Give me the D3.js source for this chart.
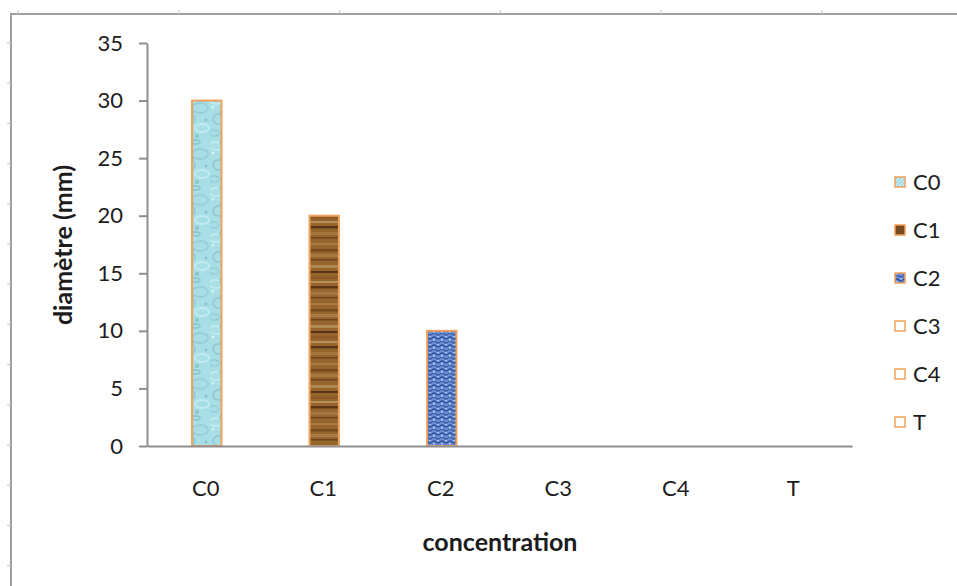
<!DOCTYPE html>
<html>
<head>
<meta charset="utf-8">
<script src="https://cdn.jsdelivr.net/npm/d3@7"></script>
<style>
  body { margin: 0; background: #fff; }
  svg { display: block; }
  text { font-family: Lato, "Open Sans", sans-serif; fill: #1c1c1c; }
</style>
</head>
<body>
<svg id="chart" width="957" height="586"></svg>
<script>
// Chart data
const categories = ["C0", "C1", "C2", "C3", "C4", "T"];
const diameters = [30, 20, 10, 0, 0, 0];
const yTicks = [0, 5, 10, 15, 20, 25, 30, 35];
const seriesNames = ["C0", "C1", "C2", "C3", "C4", "T"];
const yTitle = "diamètre (mm)";
const xTitle = "concentration";

const svg = d3.select("#chart");
const defs = svg.append("defs");

// ---- textured fills ----
// water texture (C0)
const water = defs.append("pattern").attr("id", "tex-water")
  .attr("patternUnits", "userSpaceOnUse").attr("width", 30).attr("height", 46);
water.append("rect").attr("width", 30).attr("height", 46).attr("fill", "#a8dfe7");
[[6,8,7,4,"#c0ebf0"],[20,16,8,5,"#93cfd9"],[9,27,6,5,"#90cbd6"],[22,36,7,4,"#c3ecf1"],[4,41,5,3,"#97d2dc"],[15,4,5,2,"#8cc7d2"]]
  .forEach(([cx, cy, rx, ry, c]) => water.append("ellipse")
    .attr("cx", cx).attr("cy", cy).attr("rx", rx).attr("ry", ry)
    .attr("fill", "none").attr("stroke", c).attr("stroke-width", 1.8));
[[12,20,2,"#86c2cd"],[26,28,1.5,"#86c2cd"],[3,15,1.5,"#d3f3f6"],[17,44,2,"#88c3ce"]]
  .forEach(([cx, cy, r, c]) => water.append("circle")
    .attr("cx", cx).attr("cy", cy).attr("r", r).attr("fill", c));

// wood texture (C1)
const wood = defs.append("pattern").attr("id", "tex-wood")
  .attr("patternUnits", "userSpaceOnUse").attr("width", 30).attr("height", 60);
wood.append("rect").attr("width", 30).attr("height", 60).attr("fill", "#96652f");
[[3,2,"#a97a44"],[9,2.5,"#55321280"],[14,3,"#a87a45"],[19,1.5,"#6b4220"],[25,3,"#b08a55"],[31,2,"#5a3416"],
 [36,3,"#8d5c2b"],[41,2,"#b5905b"],[46,2.5,"#5c3515"],[52,3,"#a4763f"],[57,1.5,"#6e4522"]]
  .forEach(([y, h, c]) => wood.append("rect")
    .attr("x", 0).attr("y", y).attr("width", 30).attr("height", h).attr("fill", c));

// knit texture (C2)
const knit = defs.append("pattern").attr("id", "tex-knit")
  .attr("patternUnits", "userSpaceOnUse").attr("width", 8).attr("height", 8);
knit.append("rect").attr("width", 8).attr("height", 8).attr("fill", "#6d8fd6");
knit.append("path").attr("d", "M0,2 Q2,0 4,2 T8,2").attr("fill", "none")
  .attr("stroke", "#2f509c").attr("stroke-width", 1.5);
knit.append("path").attr("d", "M0,6 Q2,4 4,6 T8,6").attr("fill", "none")
  .attr("stroke", "#3d5fae").attr("stroke-width", 1.3);
knit.append("circle").attr("cx", 2).attr("cy", 4).attr("r", 1).attr("fill", "#b9cdf3");
knit.append("circle").attr("cx", 6).attr("cy", 0.5).attr("r", 1).attr("fill", "#a9c0ee");

// legend swatch hatching for C0
const hatch = defs.append("pattern").attr("id", "tex-hatch")
  .attr("patternUnits", "userSpaceOnUse").attr("width", 4).attr("height", 4);
hatch.append("rect").attr("width", 4).attr("height", 4).attr("fill", "#a6dde6");
hatch.append("path").attr("d", "M0,4 L4,0").attr("stroke", "#d8f4f7").attr("stroke-width", 1);

// soften the textures slightly
const soft = defs.append("filter").attr("id", "soft");
soft.append("feGaussianBlur").attr("stdDeviation", 0.5);

const fills = {
  C0: "url(#tex-water)", C1: "url(#tex-wood)", C2: "url(#tex-knit)",
  C3: "none", C4: "none", T: "none"
};
const swatchFills = {
  C0: "url(#tex-hatch)", C1: "#7a4a22", C2: "url(#tex-knit)",
  C3: "#fff", C4: "#fff", T: "#fff"
};
const barStroke = "#f0a058";
const axisColor = "#8e8e8e";

// ---- outer frame with ruler marks ----
svg.append("path").attr("d", "M11,586V14H957")
  .attr("fill", "none").attr("stroke", "#a0a0a0").attr("stroke-width", 2);
svg.append("g").selectAll("line").data(d3.range(43, 586, 40.2)).join("line")
  .attr("x1", 7).attr("x2", 11).attr("y1", d => d).attr("y2", d => d)
  .attr("stroke", "#c4c4c4").attr("stroke-width", 1);
svg.append("g").selectAll("line").data(d3.range(18, 957, 160.8)).join("line")
  .attr("x1", d => d).attr("x2", d => d).attr("y1", 10).attr("y2", 14)
  .attr("stroke", "#c4c4c4").attr("stroke-width", 1);

// ---- scales ----
const x = d3.scaleBand().domain(categories).range([147, 852]).padding(0);
const y = d3.scaleLinear().domain([0, 35]).range([446, 43]);
const barW = x.bandwidth() * 0.25;

// ---- bars ----
const bars = svg.append("g");
const barData = categories.map((c, i) => ({ c, v: diameters[i] })).filter(d => d.v > 0);
bars.selectAll("rect.fill")
  .data(barData)
  .join("rect").attr("class", "fill")
  .attr("x", d => x(d.c) + x.bandwidth() / 2 - barW / 2 + 1)
  .attr("y", d => y(d.v))
  .attr("width", barW)
  .attr("height", d => y(0) - y(d.v))
  .attr("fill", d => fills[d.c])
  .attr("filter", "url(#soft)");
bars.selectAll("rect.edge")
  .data(barData)
  .join("rect").attr("class", "edge")
  .attr("x", d => x(d.c) + x.bandwidth() / 2 - barW / 2 + 1)
  .attr("y", d => y(d.v))
  .attr("width", barW)
  .attr("height", d => y(0) - y(d.v))
  .attr("fill", "none")
  .attr("stroke", barStroke)
  .attr("stroke-width", 2);

// ---- axes ----
const yAxis = svg.append("g").attr("transform", "translate(147,0)")
  .call(d3.axisLeft(y).tickValues(yTicks).tickSize(8).tickSizeOuter(0).tickPadding(16));
const xAxis = svg.append("g").attr("transform", `translate(0,${y(0)})`)
  .call(d3.axisBottom(x).tickSize(0).tickSizeOuter(0).tickPadding(34));
[yAxis, xAxis].forEach(g => {
  g.select(".domain").attr("stroke", axisColor).attr("stroke-width", 2);
  g.selectAll(".tick line").attr("stroke", axisColor).attr("stroke-width", 2);
  g.selectAll(".tick text").attr("font-size", 22).attr("font-family", "Lato, sans-serif").attr("fill", "#1c1c1c");
});

// ---- axis titles ----
svg.append("text")
  .attr("transform", "translate(72,245) rotate(-90)")
  .attr("text-anchor", "middle")
  .attr("font-size", 25).attr("font-weight", "bold")
  .text(yTitle);
svg.append("text")
  .attr("x", 500).attr("y", 551)
  .attr("text-anchor", "middle")
  .attr("font-size", 25).attr("font-weight", "bold")
  .text(xTitle);

// ---- legend ----
const legend = svg.append("g").attr("transform", "translate(895,182)");
const rows = legend.selectAll("g").data(seriesNames).join("g")
  .attr("transform", (d, i) => `translate(0,${i * 48})`);
rows.append("rect")
  .attr("x", 0).attr("y", -5).attr("width", 10).attr("height", 10)
  .attr("fill", d => swatchFills[d])
  .attr("stroke", barStroke).attr("stroke-width", 1.5);
rows.append("text")
  .attr("x", 18).attr("y", 0).attr("dy", "0.36em")
  .attr("font-size", 22)
  .text(d => d);
</script>
</body>
</html>
